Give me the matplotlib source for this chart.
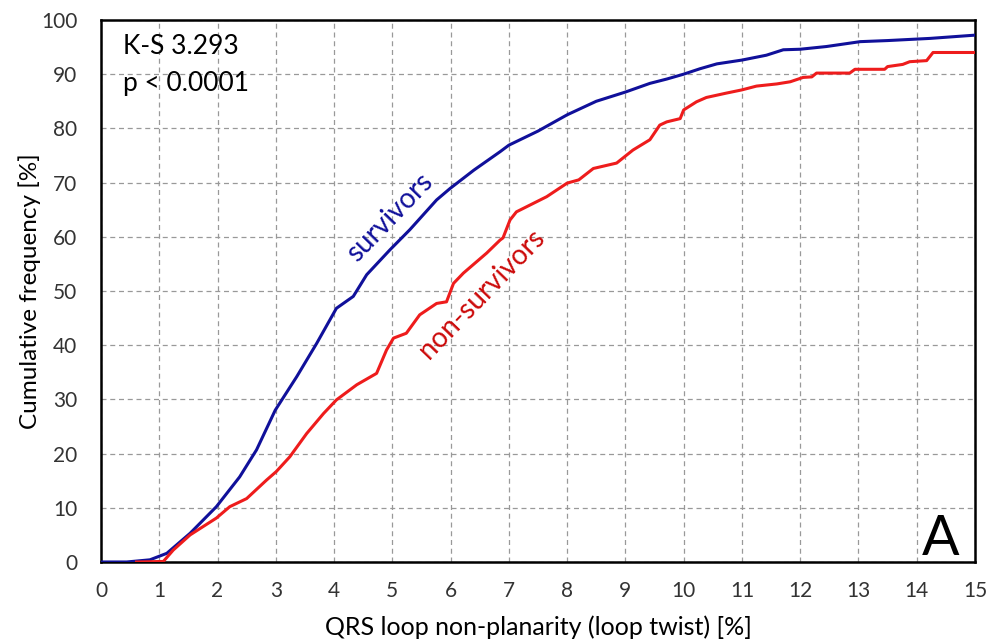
import matplotlib
matplotlib.use("Agg")
import matplotlib.pyplot as plt

plt.rcParams['font.family'] = ['Lato', 'DejaVu Sans']

# cumulative distribution of loop twist, survivors
surv_x = [0.0, 0.44, 0.84, 1.13, 1.53, 1.98, 2.38, 2.67, 2.99, 3.36, 3.7, 4.04, 4.33,
          4.56, 4.96, 5.3, 5.76, 5.99, 6.4, 6.85, 7.0, 7.5, 8.0, 8.5, 9.0, 9.42, 9.71,
          10.0, 10.28, 10.57, 11.0, 11.42, 11.71, 12.0, 12.45, 13.03, 13.5, 14.23, 15.0]
surv_y = [0.0, 0.0, 0.4, 1.6, 5.3, 10.2, 15.7, 20.7, 28.0, 34.2, 40.3, 46.8, 49.0,
          53.0, 57.6, 61.3, 66.8, 68.9, 72.3, 75.7, 76.9, 79.5, 82.5, 85.0, 86.7, 88.3, 89.1,
          90.0, 91.0, 91.9, 92.6, 93.5, 94.5, 94.6, 95.1, 96.0, 96.2, 96.6, 97.2]

# cumulative distribution of loop twist, non-survivors
nons_x = [0.61, 1.07, 1.24, 1.53, 1.98, 2.21, 2.5, 2.84, 3.01, 3.24, 3.53, 3.82, 4.04,
          4.39, 4.73, 4.9, 5.02, 5.24, 5.47, 5.76, 5.93, 6.05, 6.22, 6.62, 6.85, 6.9,
          7.02, 7.13, 7.65, 8.0, 8.2, 8.45, 8.85, 9.13, 9.42, 9.59, 9.71, 9.94, 10.0,
          10.22, 10.39, 10.73, 11.0, 11.25, 11.6, 11.83, 12.05, 12.2, 12.28, 12.85,
          12.94, 13.45, 13.5, 13.76, 13.88, 14.17, 14.28, 15.0]
nons_y = [0.0, 0.1, 2.2, 5.0, 8.1, 10.2, 11.7, 15.1, 16.7, 19.4, 23.7, 27.4, 29.9,
          32.7, 34.8, 39.1, 41.3, 42.2, 45.6, 47.7, 48.0, 51.4, 53.3, 57.0, 59.4, 59.8,
          63.1, 64.6, 67.4, 69.9, 70.5, 72.6, 73.6, 76.0, 77.9, 80.6, 81.2, 81.8, 83.4,
          84.9, 85.7, 86.5, 87.1, 87.8, 88.2, 88.6, 89.4, 89.5, 90.2, 90.2,
          90.9, 90.9, 91.4, 91.8, 92.3, 92.5, 94.0, 94.0]

x_ticks = list(range(0, 16))
y_ticks = list(range(0, 101, 10))

fig = plt.figure(figsize=(9.96, 6.4), dpi=100)
ax = fig.add_axes([0.1014, 0.1219, 0.8775, 0.8469])

ax.plot(surv_x, surv_y, color='#10109a', lw=2.2, zorder=3)
ax.plot(nons_x, nons_y, color='#ee1c1c', lw=2.2, zorder=3)

ax.set_xlim(0, 15)
ax.set_ylim(0, 100)
ax.set_xticks(x_ticks)
ax.set_yticks(y_ticks)
ax.tick_params(length=0, labelsize=15, colors='#333333')
ax.tick_params(axis='x', pad=14)
ax.tick_params(axis='y', pad=17)
ax.grid(True, color='#999999', ls=(0, (4, 3)), lw=0.9)
for s in ax.spines.values():
    s.set_linewidth(1.8)
    s.set_color('black')

ax.set_xlabel('QRS loop non-planarity (loop twist) [%]', fontsize=18, labelpad=10)
ax.set_ylabel('Cumulative frequency [%]', fontsize=17.5, labelpad=0)

ax.text(0.38, 97.5, 'K-S 3.293\np < 0.0001', fontsize=19, va='top', ha='left',
        linespacing=1.6, zorder=4)
ax.text(14.73, 1.3, 'A', fontsize=40, ha='right', va='baseline', zorder=4)

ax.text(4.96, 63.5, 'survivors', color='#10109a', fontsize=20, rotation=46,
        ha='center', va='center', rotation_mode='anchor', zorder=4)
ax.text(6.54, 49.4, 'non-survivors', color='#cc0a0a', fontsize=20, rotation=46,
        ha='center', va='center', rotation_mode='anchor', zorder=4)

fig.savefig('out.png', dpi=100)
